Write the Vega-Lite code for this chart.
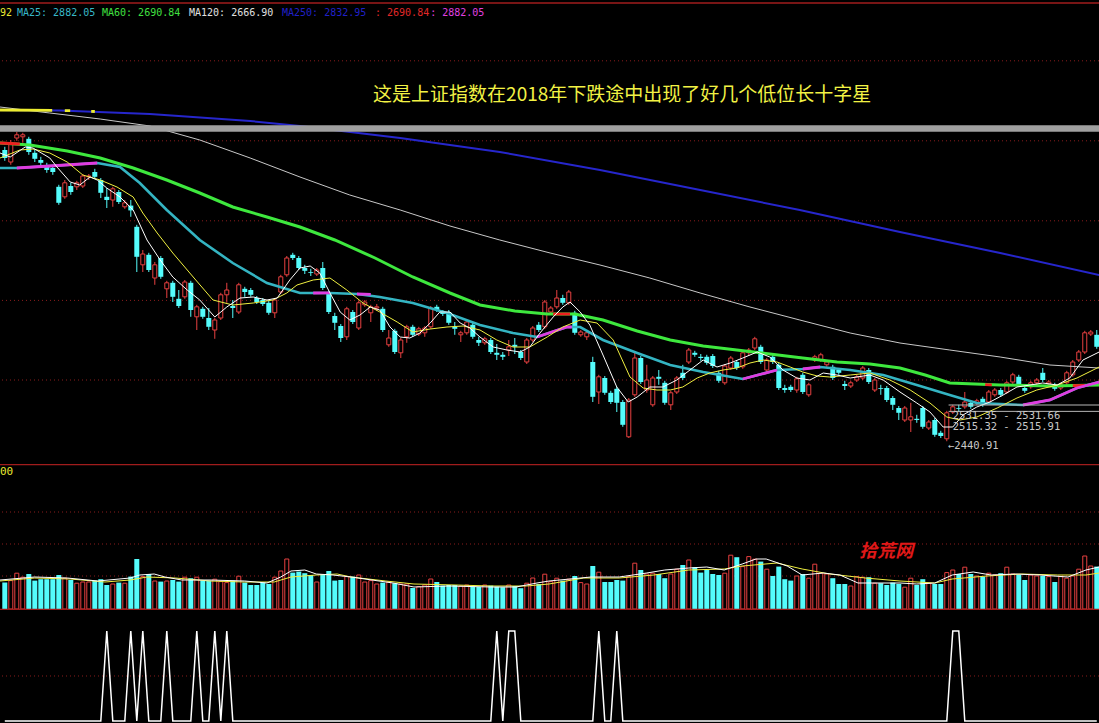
{
"$schema":"https://vega.github.io/schema/vega-lite/v6.json",
"background":"#000000",
"padding":0,
"spacing":0,
"bounds":"flush",
"config":{"view":{"stroke":null},"concat":{"spacing":0},"scale":{"continuousPadding":0}},
"datasets":{
"k":[
{"i":0,"u":0,"o":3169,"h":3177,"l":3142,"c":3149,"v":132,"s":0},
{"i":1,"u":1,"o":3139,"h":3194,"l":3132,"c":3187,"v":142,"s":0},
{"i":2,"u":1,"o":3199,"h":3214,"l":3192,"c":3207,"v":179,"s":0},
{"i":3,"u":1,"o":3202,"h":3212,"l":3187,"c":3207,"v":159,"s":0},
{"i":4,"u":0,"o":3197,"h":3202,"l":3157,"c":3164,"v":175,"s":0},
{"i":5,"u":0,"o":3162,"h":3169,"l":3139,"c":3147,"v":142,"s":0},
{"i":6,"u":0,"o":3144,"h":3152,"l":3129,"c":3137,"v":149,"s":0},
{"i":7,"u":0,"o":3127,"h":3137,"l":3112,"c":3119,"v":149,"s":0},
{"i":8,"u":0,"o":3124,"h":3132,"l":3107,"c":3114,"v":149,"s":0},
{"i":9,"u":0,"o":3077,"h":3082,"l":3032,"c":3037,"v":170,"s":0},
{"i":10,"u":1,"o":3052,"h":3094,"l":3047,"c":3087,"v":154,"s":0},
{"i":11,"u":0,"o":3079,"h":3087,"l":3057,"c":3064,"v":145,"s":0},
{"i":12,"u":1,"o":3077,"h":3092,"l":3069,"c":3087,"v":129,"s":0},
{"i":13,"u":1,"o":3079,"h":3109,"l":3074,"c":3104,"v":135,"s":0},
{"i":14,"u":1,"o":3102,"h":3109,"l":3094,"c":3104,"v":135,"s":0},
{"i":15,"u":0,"o":3114,"h":3122,"l":3097,"c":3102,"v":142,"s":0},
{"i":16,"u":0,"o":3094,"h":3099,"l":3049,"c":3062,"v":149,"s":0},
{"i":17,"u":0,"o":3052,"h":3074,"l":3024,"c":3044,"v":120,"s":1},
{"i":18,"u":1,"o":3044,"h":3077,"l":3027,"c":3072,"v":125,"s":0},
{"i":19,"u":0,"o":3064,"h":3069,"l":3034,"c":3039,"v":132,"s":0},
{"i":20,"u":1,"o":3027,"h":3044,"l":3022,"c":3037,"v":129,"s":0},
{"i":21,"u":0,"o":3030,"h":3044,"l":3002,"c":3018,"v":162,"s":1},
{"i":22,"u":0,"o":2977,"h":2982,"l":2864,"c":2902,"v":250,"s":0},
{"i":23,"u":1,"o":2882,"h":2919,"l":2864,"c":2909,"v":162,"s":1},
{"i":24,"u":0,"o":2907,"h":2912,"l":2864,"c":2869,"v":175,"s":0},
{"i":25,"u":1,"o":2849,"h":2889,"l":2832,"c":2882,"v":140,"s":0},
{"i":26,"u":0,"o":2899,"h":2904,"l":2847,"c":2852,"v":137,"s":0},
{"i":27,"u":1,"o":2822,"h":2842,"l":2799,"c":2837,"v":140,"s":1},
{"i":28,"u":0,"o":2837,"h":2842,"l":2789,"c":2802,"v":145,"s":0},
{"i":29,"u":0,"o":2797,"h":2819,"l":2774,"c":2779,"v":137,"s":0},
{"i":30,"u":1,"o":2802,"h":2844,"l":2797,"c":2839,"v":159,"s":0},
{"i":31,"u":0,"o":2837,"h":2842,"l":2752,"c":2769,"v":154,"s":0},
{"i":32,"u":1,"o":2752,"h":2782,"l":2719,"c":2777,"v":159,"s":1},
{"i":33,"u":0,"o":2772,"h":2777,"l":2747,"c":2752,"v":142,"s":0},
{"i":34,"u":0,"o":2749,"h":2774,"l":2719,"c":2727,"v":142,"s":0},
{"i":35,"u":1,"o":2719,"h":2749,"l":2697,"c":2744,"v":149,"s":1},
{"i":36,"u":1,"o":2749,"h":2812,"l":2744,"c":2807,"v":137,"s":0},
{"i":37,"u":1,"o":2807,"h":2837,"l":2787,"c":2819,"v":132,"s":1},
{"i":38,"u":0,"o":2779,"h":2794,"l":2749,"c":2774,"v":142,"s":0},
{"i":39,"u":1,"o":2764,"h":2837,"l":2759,"c":2832,"v":164,"s":0},
{"i":40,"u":0,"o":2822,"h":2827,"l":2802,"c":2814,"v":132,"s":0},
{"i":41,"u":0,"o":2819,"h":2824,"l":2802,"c":2807,"v":120,"s":0},
{"i":42,"u":0,"o":2799,"h":2804,"l":2784,"c":2789,"v":120,"s":0},
{"i":43,"u":0,"o":2794,"h":2799,"l":2779,"c":2784,"v":132,"s":0},
{"i":44,"u":0,"o":2787,"h":2792,"l":2757,"c":2762,"v":125,"s":0},
{"i":45,"u":1,"o":2762,"h":2799,"l":2749,"c":2794,"v":159,"s":0},
{"i":46,"u":1,"o":2814,"h":2857,"l":2809,"c":2852,"v":190,"s":0},
{"i":47,"u":1,"o":2857,"h":2904,"l":2852,"c":2899,"v":250,"s":0},
{"i":48,"u":0,"o":2907,"h":2912,"l":2894,"c":2899,"v":182,"s":0},
{"i":49,"u":0,"o":2899,"h":2904,"l":2869,"c":2874,"v":187,"s":0},
{"i":50,"u":0,"o":2874,"h":2882,"l":2859,"c":2867,"v":179,"s":0},
{"i":51,"u":0,"o":2864,"h":2872,"l":2854,"c":2862,"v":170,"s":0},
{"i":52,"u":1,"o":2859,"h":2874,"l":2854,"c":2869,"v":135,"s":0},
{"i":53,"u":0,"o":2874,"h":2889,"l":2819,"c":2824,"v":170,"s":0},
{"i":54,"u":0,"o":2812,"h":2817,"l":2759,"c":2764,"v":190,"s":0},
{"i":55,"u":0,"o":2754,"h":2762,"l":2719,"c":2737,"v":142,"s":0},
{"i":56,"u":0,"o":2729,"h":2734,"l":2689,"c":2699,"v":145,"s":0},
{"i":57,"u":1,"o":2702,"h":2777,"l":2694,"c":2772,"v":162,"s":0},
{"i":58,"u":0,"o":2764,"h":2769,"l":2734,"c":2739,"v":162,"s":0},
{"i":59,"u":1,"o":2724,"h":2792,"l":2719,"c":2787,"v":170,"s":0},
{"i":60,"u":1,"o":2782,"h":2794,"l":2777,"c":2789,"v":135,"s":0},
{"i":61,"u":1,"o":2762,"h":2782,"l":2739,"c":2777,"v":142,"s":0},
{"i":62,"u":1,"o":2774,"h":2784,"l":2767,"c":2777,"v":125,"s":0},
{"i":63,"u":0,"o":2772,"h":2777,"l":2714,"c":2719,"v":132,"s":0},
{"i":64,"u":1,"o":2682,"h":2719,"l":2677,"c":2699,"v":135,"s":0},
{"i":65,"u":0,"o":2717,"h":2722,"l":2659,"c":2664,"v":129,"s":0},
{"i":66,"u":1,"o":2662,"h":2699,"l":2649,"c":2694,"v":125,"s":0},
{"i":67,"u":1,"o":2702,"h":2732,"l":2687,"c":2727,"v":125,"s":0},
{"i":68,"u":0,"o":2727,"h":2732,"l":2702,"c":2707,"v":105,"s":0},
{"i":69,"u":1,"o":2709,"h":2727,"l":2704,"c":2722,"v":112,"s":0},
{"i":70,"u":1,"o":2712,"h":2729,"l":2702,"c":2724,"v":120,"s":0},
{"i":71,"u":1,"o":2727,"h":2779,"l":2722,"c":2774,"v":150,"s":0},
{"i":72,"u":0,"o":2777,"h":2782,"l":2764,"c":2769,"v":135,"s":0},
{"i":73,"u":0,"o":2764,"h":2769,"l":2754,"c":2759,"v":117,"s":0},
{"i":74,"u":0,"o":2764,"h":2769,"l":2732,"c":2737,"v":120,"s":0},
{"i":75,"u":0,"o":2727,"h":2739,"l":2707,"c":2722,"v":120,"s":0},
{"i":76,"u":1,"o":2707,"h":2717,"l":2689,"c":2712,"v":115,"s":0},
{"i":77,"u":1,"o":2712,"h":2744,"l":2707,"c":2739,"v":120,"s":0},
{"i":78,"u":0,"o":2732,"h":2737,"l":2697,"c":2702,"v":112,"s":0},
{"i":79,"u":0,"o":2694,"h":2702,"l":2679,"c":2687,"v":110,"s":0},
{"i":80,"u":1,"o":2687,"h":2702,"l":2682,"c":2697,"v":120,"s":0},
{"i":81,"u":0,"o":2694,"h":2699,"l":2659,"c":2664,"v":117,"s":0},
{"i":82,"u":0,"o":2662,"h":2684,"l":2644,"c":2657,"v":112,"s":1},
{"i":83,"u":0,"o":2657,"h":2664,"l":2644,"c":2652,"v":109,"s":0},
{"i":84,"u":1,"o":2669,"h":2694,"l":2654,"c":2677,"v":120,"s":1},
{"i":85,"u":0,"o":2682,"h":2699,"l":2659,"c":2677,"v":115,"s":1},
{"i":86,"u":0,"o":2664,"h":2669,"l":2644,"c":2649,"v":104,"s":0},
{"i":87,"u":1,"o":2639,"h":2699,"l":2634,"c":2694,"v":129,"s":0},
{"i":88,"u":1,"o":2694,"h":2729,"l":2689,"c":2724,"v":155,"s":0},
{"i":89,"u":0,"o":2732,"h":2739,"l":2714,"c":2719,"v":125,"s":0},
{"i":90,"u":1,"o":2727,"h":2794,"l":2722,"c":2789,"v":174,"s":0},
{"i":91,"u":1,"o":2764,"h":2779,"l":2759,"c":2774,"v":137,"s":0},
{"i":92,"u":1,"o":2777,"h":2819,"l":2772,"c":2799,"v":154,"s":0},
{"i":93,"u":0,"o":2799,"h":2807,"l":2782,"c":2787,"v":142,"s":0},
{"i":94,"u":1,"o":2787,"h":2819,"l":2782,"c":2814,"v":149,"s":0},
{"i":95,"u":0,"o":2762,"h":2767,"l":2707,"c":2712,"v":165,"s":0},
{"i":96,"u":1,"o":2707,"h":2719,"l":2702,"c":2714,"v":132,"s":0},
{"i":97,"u":1,"o":2702,"h":2717,"l":2694,"c":2712,"v":125,"s":0},
{"i":98,"u":0,"o":2639,"h":2652,"l":2539,"c":2552,"v":215,"s":0},
{"i":99,"u":1,"o":2564,"h":2607,"l":2534,"c":2602,"v":184,"s":1},
{"i":100,"u":0,"o":2599,"h":2604,"l":2557,"c":2562,"v":135,"s":0},
{"i":101,"u":0,"o":2562,"h":2567,"l":2534,"c":2539,"v":135,"s":0},
{"i":102,"u":0,"o":2572,"h":2577,"l":2514,"c":2537,"v":145,"s":1},
{"i":103,"u":0,"o":2539,"h":2544,"l":2477,"c":2482,"v":142,"s":0},
{"i":104,"u":1,"o":2452,"h":2549,"l":2449,"c":2544,"v":162,"s":0},
{"i":105,"u":1,"o":2557,"h":2664,"l":2552,"c":2649,"v":229,"s":0},
{"i":106,"u":0,"o":2649,"h":2654,"l":2584,"c":2589,"v":195,"s":0},
{"i":107,"u":1,"o":2569,"h":2632,"l":2562,"c":2594,"v":175,"s":0},
{"i":108,"u":1,"o":2532,"h":2604,"l":2527,"c":2599,"v":179,"s":0},
{"i":109,"u":0,"o":2602,"h":2619,"l":2582,"c":2597,"v":175,"s":0},
{"i":110,"u":0,"o":2587,"h":2592,"l":2532,"c":2537,"v":154,"s":0},
{"i":111,"u":1,"o":2532,"h":2567,"l":2519,"c":2562,"v":175,"s":0},
{"i":112,"u":1,"o":2564,"h":2604,"l":2559,"c":2599,"v":199,"s":0},
{"i":113,"u":0,"o":2612,"h":2632,"l":2594,"c":2599,"v":220,"s":0},
{"i":114,"u":1,"o":2639,"h":2674,"l":2634,"c":2669,"v":245,"s":0},
{"i":115,"u":0,"o":2662,"h":2667,"l":2652,"c":2657,"v":209,"s":0},
{"i":116,"u":0,"o":2652,"h":2659,"l":2642,"c":2649,"v":182,"s":0},
{"i":117,"u":0,"o":2652,"h":2657,"l":2632,"c":2637,"v":195,"s":0},
{"i":118,"u":0,"o":2654,"h":2659,"l":2624,"c":2629,"v":175,"s":0},
{"i":119,"u":0,"o":2612,"h":2617,"l":2587,"c":2592,"v":170,"s":0},
{"i":120,"u":1,"o":2587,"h":2634,"l":2582,"c":2629,"v":179,"s":0},
{"i":121,"u":1,"o":2624,"h":2654,"l":2619,"c":2649,"v":269,"s":0},
{"i":122,"u":0,"o":2639,"h":2644,"l":2619,"c":2624,"v":259,"s":0},
{"i":123,"u":1,"o":2627,"h":2667,"l":2622,"c":2662,"v":212,"s":0},
{"i":124,"u":1,"o":2662,"h":2674,"l":2654,"c":2669,"v":262,"s":0},
{"i":125,"u":1,"o":2674,"h":2702,"l":2669,"c":2697,"v":249,"s":0},
{"i":126,"u":0,"o":2677,"h":2682,"l":2634,"c":2639,"v":237,"s":0},
{"i":127,"u":1,"o":2619,"h":2649,"l":2614,"c":2644,"v":199,"s":0},
{"i":128,"u":0,"o":2652,"h":2657,"l":2634,"c":2639,"v":165,"s":0},
{"i":129,"u":0,"o":2632,"h":2637,"l":2569,"c":2574,"v":212,"s":0},
{"i":130,"u":0,"o":2574,"h":2582,"l":2562,"c":2569,"v":149,"s":0},
{"i":131,"u":0,"o":2577,"h":2582,"l":2564,"c":2569,"v":142,"s":0},
{"i":132,"u":1,"o":2569,"h":2602,"l":2562,"c":2597,"v":165,"s":0},
{"i":133,"u":0,"o":2607,"h":2612,"l":2559,"c":2564,"v":175,"s":0},
{"i":134,"u":1,"o":2557,"h":2587,"l":2552,"c":2582,"v":154,"s":0},
{"i":135,"u":1,"o":2644,"h":2657,"l":2639,"c":2652,"v":224,"s":0},
{"i":136,"u":1,"o":2644,"h":2662,"l":2639,"c":2657,"v":179,"s":0},
{"i":137,"u":1,"o":2632,"h":2644,"l":2627,"c":2639,"v":175,"s":0},
{"i":138,"u":0,"o":2627,"h":2632,"l":2594,"c":2599,"v":154,"s":0},
{"i":139,"u":0,"o":2619,"h":2624,"l":2607,"c":2612,"v":125,"s":0},
{"i":140,"u":0,"o":2584,"h":2592,"l":2569,"c":2579,"v":125,"s":0},
{"i":141,"u":1,"o":2579,"h":2592,"l":2574,"c":2587,"v":115,"s":0},
{"i":142,"u":1,"o":2594,"h":2607,"l":2589,"c":2602,"v":162,"s":0},
{"i":143,"u":1,"o":2599,"h":2629,"l":2594,"c":2624,"v":159,"s":0},
{"i":144,"u":0,"o":2619,"h":2624,"l":2584,"c":2589,"v":159,"s":0},
{"i":145,"u":1,"o":2569,"h":2599,"l":2564,"c":2594,"v":129,"s":0},
{"i":146,"u":0,"o":2574,"h":2582,"l":2557,"c":2572,"v":129,"s":0},
{"i":147,"u":0,"o":2574,"h":2579,"l":2539,"c":2544,"v":120,"s":0},
{"i":148,"u":0,"o":2549,"h":2554,"l":2519,"c":2532,"v":132,"s":0},
{"i":149,"u":0,"o":2524,"h":2529,"l":2494,"c":2512,"v":125,"s":0},
{"i":150,"u":1,"o":2494,"h":2529,"l":2489,"c":2524,"v":109,"s":0},
{"i":151,"u":1,"o":2494,"h":2537,"l":2464,"c":2502,"v":154,"s":0},
{"i":152,"u":0,"o":2497,"h":2507,"l":2487,"c":2494,"v":120,"s":0},
{"i":153,"u":0,"o":2524,"h":2529,"l":2472,"c":2477,"v":149,"s":0},
{"i":154,"u":1,"o":2474,"h":2494,"l":2469,"c":2489,"v":129,"s":0},
{"i":155,"u":0,"o":2494,"h":2499,"l":2452,"c":2457,"v":125,"s":0},
{"i":156,"u":0,"o":2462,"h":2467,"l":2449,"c":2454,"v":125,"s":0},
{"i":157,"u":1,"o":2447,"h":2517,"l":2440.91,"c":2512,"v":182,"s":0},
{"i":158,"u":1,"o":2514,"h":2532,"l":2509,"c":2527,"v":195,"s":1},
{"i":159,"u":0,"o":2524,"h":2532,"l":2514,"c":2522,"v":175,"s":1},
{"i":160,"u":1,"o":2527,"h":2564,"l":2522,"c":2539,"v":209,"s":0},
{"i":161,"u":0,"o":2537,"h":2542,"l":2522,"c":2527,"v":175,"s":0},
{"i":162,"u":1,"o":2537,"h":2547,"l":2532,"c":2542,"v":165,"s":0},
{"i":163,"u":0,"o":2547,"h":2552,"l":2527,"c":2532,"v":162,"s":0},
{"i":164,"u":1,"o":2539,"h":2569,"l":2534,"c":2564,"v":179,"s":0},
{"i":165,"u":1,"o":2557,"h":2574,"l":2552,"c":2569,"v":170,"s":0},
{"i":166,"u":0,"o":2569,"h":2574,"l":2552,"c":2557,"v":179,"s":0},
{"i":167,"u":1,"o":2564,"h":2592,"l":2559,"c":2587,"v":209,"s":0},
{"i":168,"u":1,"o":2589,"h":2612,"l":2584,"c":2607,"v":175,"s":0},
{"i":169,"u":0,"o":2602,"h":2607,"l":2577,"c":2582,"v":170,"s":0},
{"i":170,"u":0,"o":2574,"h":2579,"l":2562,"c":2567,"v":145,"s":0},
{"i":171,"u":1,"o":2577,"h":2592,"l":2572,"c":2587,"v":170,"s":0},
{"i":172,"u":1,"o":2587,"h":2599,"l":2582,"c":2594,"v":165,"s":0},
{"i":173,"u":0,"o":2612,"h":2624,"l":2589,"c":2594,"v":165,"s":0},
{"i":174,"u":1,"o":2584,"h":2594,"l":2579,"c":2589,"v":162,"s":0},
{"i":175,"u":0,"o":2582,"h":2587,"l":2567,"c":2572,"v":135,"s":0},
{"i":176,"u":1,"o":2574,"h":2587,"l":2569,"c":2582,"v":162,"s":0},
{"i":177,"u":1,"o":2587,"h":2617,"l":2582,"c":2612,"v":154,"s":0},
{"i":178,"u":1,"o":2607,"h":2644,"l":2602,"c":2639,"v":165,"s":0},
{"i":179,"u":1,"o":2644,"h":2669,"l":2639,"c":2664,"v":199,"s":0},
{"i":180,"u":1,"o":2664,"h":2717,"l":2659,"c":2712,"v":265,"s":0},
{"i":181,"u":1,"o":2709,"h":2719,"l":2704,"c":2714,"v":215,"s":0},
{"i":182,"u":0,"o":2707,"h":2719,"l":2672,"c":2677,"v":212,"s":0}
],
"ma5":[{"i":-0.8,"p":3161.5},{"i":0.9,"p":3151.5},{"i":3.4,"p":3176.5},{"i":4.7,"p":3174},{"i":7.5,"p":3149},{"i":8.7,"p":3126.5},{"i":10.9,"p":3089},{"i":12.5,"p":3081.5},{"i":14.2,"p":3101.5},{"i":15.4,"p":3094},{"i":17,"p":3074},{"i":19.2,"p":3051.5},{"i":21.4,"p":3019},{"i":23.7,"p":2944},{"i":25.9,"p":2894},{"i":28,"p":2851.5},{"i":30.4,"p":2819},{"i":32.5,"p":2794},{"i":35,"p":2751.5},{"i":37,"p":2776.5},{"i":39.2,"p":2799},{"i":41.4,"p":2801.5},{"i":43.7,"p":2794},{"i":45.4,"p":2799},{"i":47.5,"p":2844},{"i":49.2,"p":2874},{"i":50.9,"p":2879},{"i":52.5,"p":2861.5},{"i":54.2,"p":2811.5},{"i":55.9,"p":2764},{"i":57.5,"p":2744},{"i":59.2,"p":2756.5},{"i":60.9,"p":2776.5},{"i":62.5,"p":2769},{"i":64.2,"p":2726.5},{"i":65.9,"p":2701.5},{"i":67.5,"p":2699},{"i":69.2,"p":2711.5},{"i":70.9,"p":2736.5},{"i":72.5,"p":2764},{"i":74.2,"p":2764},{"i":75.9,"p":2736.5},{"i":77.5,"p":2724},{"i":79.2,"p":2701.5},{"i":81.4,"p":2676.5},{"i":83.7,"p":2669},{"i":85.9,"p":2664},{"i":87.5,"p":2676.5},{"i":89.2,"p":2711.5},{"i":91.4,"p":2751.5},{"i":93,"p":2776.5},{"i":94.2,"p":2789},{"i":95.9,"p":2764},{"i":97.5,"p":2731.5},{"i":99.7,"p":2656.5},{"i":102,"p":2576.5},{"i":103.9,"p":2539},{"i":105.4,"p":2551.5},{"i":107.5,"p":2576.5},{"i":109.7,"p":2576.5},{"i":112,"p":2594},{"i":114.2,"p":2619},{"i":116.4,"p":2644},{"i":118.7,"p":2626.5},{"i":120.9,"p":2636.5},{"i":123,"p":2649},{"i":125.4,"p":2664},{"i":127.5,"p":2651.5},{"i":129.7,"p":2619},{"i":132,"p":2599},{"i":134.2,"p":2594},{"i":136.4,"p":2611.5},{"i":138.7,"p":2606.5},{"i":140.9,"p":2599},{"i":144.2,"p":2606.5},{"i":146.4,"p":2594},{"i":149.2,"p":2564},{"i":152,"p":2536.5},{"i":154.2,"p":2514},{"i":156.4,"p":2476.5},{"i":158,"p":2476.5},{"i":159.7,"p":2506.5},{"i":162,"p":2526.5},{"i":164.2,"p":2539},{"i":166.4,"p":2556.5},{"i":168.7,"p":2576.5},{"i":170.9,"p":2581.5},{"i":173,"p":2586.5},{"i":175.4,"p":2581.5},{"i":177.5,"p":2599},{"i":179.7,"p":2644},{"i":182.4,"p":2664}],
"ma10":[{"i":-0.8,"p":3149},{"i":2.5,"p":3169},{"i":4.7,"p":3171.5},{"i":7.5,"p":3161.5},{"i":10.4,"p":3139},{"i":13,"p":3106.5},{"i":15.9,"p":3094},{"i":18.7,"p":3076.5},{"i":21.4,"p":3051.5},{"i":23,"p":3011.5},{"i":25.4,"p":2961.5},{"i":28,"p":2911.5},{"i":31.4,"p":2851.5},{"i":34.7,"p":2794},{"i":38,"p":2781.5},{"i":41.4,"p":2786.5},{"i":44.7,"p":2794},{"i":47,"p":2811.5},{"i":48.7,"p":2831.5},{"i":51.4,"p":2844},{"i":54.2,"p":2849},{"i":57,"p":2819},{"i":59.7,"p":2786.5},{"i":62.5,"p":2764},{"i":65.4,"p":2739},{"i":68,"p":2714},{"i":70.9,"p":2721.5},{"i":73.7,"p":2726.5},{"i":76.4,"p":2729},{"i":79.2,"p":2719},{"i":82,"p":2694},{"i":84.7,"p":2676.5},{"i":87.5,"p":2676.5},{"i":90.4,"p":2701.5},{"i":93,"p":2726.5},{"i":95.9,"p":2744},{"i":98.7,"p":2736.5},{"i":101.4,"p":2694},{"i":104.2,"p":2601.5},{"i":106.4,"p":2574},{"i":108.7,"p":2569},{"i":110.9,"p":2569},{"i":113,"p":2576.5},{"i":115.4,"p":2599},{"i":117.5,"p":2611.5},{"i":119.7,"p":2619},{"i":122,"p":2624},{"i":124.2,"p":2636.5},{"i":126.4,"p":2644},{"i":128.7,"p":2639},{"i":130.9,"p":2626.5},{"i":133,"p":2614},{"i":135.4,"p":2604},{"i":137.5,"p":2601.5},{"i":140.9,"p":2606.5},{"i":144.2,"p":2611.5},{"i":147.5,"p":2594},{"i":150.9,"p":2569},{"i":154.2,"p":2536.5},{"i":157,"p":2501.5},{"i":159.2,"p":2494},{"i":162,"p":2501.5},{"i":165.4,"p":2524},{"i":168.7,"p":2549},{"i":172,"p":2569},{"i":175.4,"p":2581.5},{"i":178.7,"p":2599},{"i":182.4,"p":2626.5}],
"ma25":[{"i":-0.8,"p":3124},{"i":2,"p":3124},{"i":7.5,"p":3129},{"i":15.4,"p":3136.5},{"i":19.2,"p":3126.5},{"i":22.5,"p":3086.5},{"i":27,"p":3019},{"i":32.5,"p":2944},{"i":38,"p":2886.5},{"i":43.7,"p":2836.5},{"i":49.2,"p":2811.5},{"i":54.2,"p":2811.5},{"i":58.7,"p":2809},{"i":62.5,"p":2801.5},{"i":68,"p":2786.5},{"i":73.7,"p":2761.5},{"i":79.2,"p":2731.5},{"i":84.7,"p":2711.5},{"i":88.7,"p":2701.5},{"i":93.7,"p":2726.5},{"i":95.9,"p":2726.5},{"i":99.7,"p":2694},{"i":105.4,"p":2661.5},{"i":110.9,"p":2631.5},{"i":116.4,"p":2614},{"i":123,"p":2596.5},{"i":128.7,"p":2619},{"i":133,"p":2621.5},{"i":135.9,"p":2626.5},{"i":140.9,"p":2619},{"i":146.4,"p":2606.5},{"i":152,"p":2581.5},{"i":157.5,"p":2556.5},{"i":162,"p":2536.5},{"i":169.7,"p":2531.5},{"i":174.2,"p":2544},{"i":178.7,"p":2574},{"i":182.4,"p":2589}],
"ma60":[{"i":-0.8,"p":3186.5},{"i":4.2,"p":3181.5},{"i":10.4,"p":3166.5},{"i":15.9,"p":3149},{"i":21.4,"p":3124},{"i":27,"p":3094},{"i":32.5,"p":3061.5},{"i":38,"p":3026.5},{"i":43.7,"p":3001.5},{"i":49.2,"p":2976.5},{"i":55,"p":2944},{"i":61.7,"p":2899},{"i":68,"p":2851.5},{"i":74.2,"p":2811.5},{"i":79.2,"p":2781.5},{"i":85,"p":2766.5},{"i":90.4,"p":2759},{"i":95,"p":2759},{"i":99.7,"p":2744},{"i":105.4,"p":2716.5},{"i":110.9,"p":2694},{"i":116.4,"p":2679},{"i":122,"p":2669},{"i":127.5,"p":2659},{"i":133,"p":2649},{"i":138.7,"p":2639},{"i":144.2,"p":2634},{"i":149.2,"p":2624},{"i":153.4,"p":2606.5},{"i":157.5,"p":2586.5},{"i":165.9,"p":2581.5},{"i":174.2,"p":2579},{"i":182.4,"p":2581.5}],
"ma120":[{"i":-0.8,"p":3276.5},{"i":7.5,"p":3261.5},{"i":15.9,"p":3246.5},{"i":24.2,"p":3229},{"i":32.5,"p":3194},{"i":40.9,"p":3149},{"i":49.2,"p":3101.5},{"i":57.5,"p":3056.5},{"i":65.9,"p":3019},{"i":74.2,"p":2979},{"i":82.5,"p":2944},{"i":90.9,"p":2911.5},{"i":99.2,"p":2881.5},{"i":107.5,"p":2849},{"i":115.9,"p":2811.5},{"i":124.2,"p":2776.5},{"i":132.5,"p":2744},{"i":140.9,"p":2711.5},{"i":149.2,"p":2686.5},{"i":157.5,"p":2669},{"i":165.9,"p":2651.5},{"i":174.2,"p":2631.5},{"i":182.4,"p":2624}],
"ma250":[{"i":-0.8,"p":3269},{"i":9.2,"p":3267.7},{"i":24.2,"p":3259},{"i":40.9,"p":3241.5},{"i":49.2,"p":3229},{"i":65.9,"p":3199},{"i":82.5,"p":3164},{"i":99.2,"p":3119},{"i":115.9,"p":3069},{"i":132.5,"p":3019},{"i":149.2,"p":2964},{"i":165.9,"p":2911.5},{"i":182.4,"p":2856.5}],
"ov":[
{"g":"y1","k":"ma250up","i":-0.8,"p":3269},{"g":"y1","k":"ma250up","i":7.9,"p":3268},
{"g":"y2","k":"ma250up","i":10,"p":3267.5},{"g":"y2","k":"ma250up","i":10.9,"p":3267.3},
{"g":"y3","k":"ma250up","i":14.4,"p":3265.5},{"g":"y3","k":"ma250up","i":15,"p":3265.2},
{"g":"r1","k":"ma60up","i":-0.8,"p":3186.5},{"g":"r1","k":"ma60up","i":2.5,"p":3184},
{"g":"r2","k":"ma60up","i":91.4,"p":2759},{"g":"r2","k":"ma60up","i":94.2,"p":2759},
{"g":"r3","k":"ma60up","i":163.4,"p":2582.5},{"g":"r3","k":"ma60up","i":164.5,"p":2582},
{"g":"r4","k":"ma60up","i":178,"p":2580},{"g":"r4","k":"ma60up","i":180,"p":2580.5},
{"g":"m1","k":"ma25up","i":2,"p":3124},{"g":"m1","k":"ma25up","i":7.5,"p":3129},{"g":"m1","k":"ma25up","i":15.4,"p":3136.5},
{"g":"m2","k":"ma25up","i":51.4,"p":2811.5},{"g":"m2","k":"ma25up","i":54.2,"p":2812},
{"g":"m3","k":"ma25up","i":58.7,"p":2809},{"g":"m3","k":"ma25up","i":61,"p":2808},
{"g":"m4","k":"ma25up","i":88.7,"p":2701.5},{"g":"m4","k":"ma25up","i":93.7,"p":2726.5},{"g":"m4","k":"ma25up","i":94.5,"p":2726.5},
{"g":"m5","k":"ma25up","i":123,"p":2596.5},{"g":"m5","k":"ma25up","i":128.7,"p":2619},
{"g":"m6","k":"ma25up","i":133,"p":2621.5},{"g":"m6","k":"ma25up","i":135.9,"p":2626.5},
{"g":"m7","k":"ma25up","i":169.7,"p":2531.5},{"g":"m7","k":"ma25up","i":174.2,"p":2544},{"g":"m7","k":"ma25up","i":178.7,"p":2574},{"g":"m7","k":"ma25up","i":182.4,"p":2589}
],
"vm5":[{"i":-0.8,"v":145},{"i":5,"v":160},{"i":10.4,"v":155},{"i":15.5,"v":140},{"i":20.9,"v":155},{"i":22.5,"v":170},{"i":24.9,"v":175},{"i":26.7,"v":160},{"i":29.5,"v":145},{"i":34.2,"v":145},{"i":40,"v":140},{"i":43.7,"v":130},{"i":46,"v":160},{"i":47.7,"v":190},{"i":50,"v":195},{"i":51.9,"v":175},{"i":54.7,"v":170},{"i":57.7,"v":160},{"i":61.2,"v":145},{"i":64.7,"v":130},{"i":68.2,"v":110},{"i":74,"v":115},{"i":81,"v":110},{"i":85.2,"v":110},{"i":88.7,"v":130},{"i":90.7,"v":140},{"i":94.2,"v":150},{"i":97.7,"v":160},{"i":102.4,"v":160},{"i":107,"v":180},{"i":110,"v":195},{"i":114,"v":205},{"i":117,"v":210},{"i":119.9,"v":195},{"i":122.9,"v":225},{"i":125.2,"v":250},{"i":126.9,"v":250},{"i":130.4,"v":215},{"i":132.9,"v":170},{"i":136.4,"v":180},{"i":139.2,"v":170},{"i":142.2,"v":130},{"i":146.2,"v":130},{"i":149.2,"v":130},{"i":152,"v":125},{"i":155,"v":130},{"i":157.9,"v":170},{"i":161.4,"v":185},{"i":164.4,"v":170},{"i":168.4,"v":175},{"i":172.5,"v":170},{"i":177.2,"v":160},{"i":180.2,"v":195},{"i":182.4,"v":210}],
"vm10":[{"i":-0.8,"v":140},{"i":5,"v":155},{"i":10.9,"v":150},{"i":16.7,"v":135},{"i":20.9,"v":145},{"i":23.7,"v":160},{"i":28.4,"v":155},{"i":34.2,"v":140},{"i":40,"v":135},{"i":44.9,"v":135},{"i":47.7,"v":160},{"i":51.9,"v":170},{"i":55.4,"v":175},{"i":57.7,"v":160},{"i":63.5,"v":140},{"i":68.2,"v":125},{"i":75.2,"v":120},{"i":81,"v":115},{"i":86.9,"v":115},{"i":90.7,"v":125},{"i":96.5,"v":155},{"i":102.4,"v":155},{"i":108.2,"v":170},{"i":114,"v":195},{"i":119.9,"v":200},{"i":122.9,"v":215},{"i":128.7,"v":230},{"i":132.9,"v":200},{"i":137.5,"v":175},{"i":143.4,"v":155},{"i":149.2,"v":140},{"i":155,"v":130},{"i":157.9,"v":150},{"i":163.7,"v":165},{"i":169.5,"v":175},{"i":175.5,"v":170},{"i":180.2,"v":170},{"i":182.4,"v":180}],
"gp":[{"p":3392},{"p":3192},{"p":2992},{"p":2793},{"p":2594}],
"gv":[{"v":485},{"v":325},{"v":165}],
"gs":[{"s":0.5}],
"band":[{"p":3223}],
"top":[{"p":3536.5}],
"sepv":[{"v":722.5},{"v":-3}],
"hl":[{"i":157.3,"i2":182.4,"p":2531.5},{"i":157.3,"i2":182.4,"p":2515.6}],
"hdr":[
{"i":-0.8,"p":3512,"t":"92","k":"y"},
{"i":2.03,"p":3512,"t":"MA25: 2882.05","k":"c"},
{"i":16.2,"p":3512,"t":"MA60: 2690.84","k":"g"},
{"i":30.7,"p":3512,"t":"MA120: 2666.90","k":"w"},
{"i":46.2,"p":3512,"t":"MA250: 2832.95","k":"b"},
{"i":61.7,"p":3512,"t":": 2690.84","k":"r"},
{"i":70.9,"p":3512,"t":": 2882.05","k":"m"}
],
"ann":[
{"i":158.0,"p":2504,"t":"2531.35 - 2531.66"},
{"i":158.0,"p":2477,"t":"2515.32 - 2515.91"},
{"i":157.2,"p":2429,"t":"←2440.91"}
],
"title":[{"i":102.9,"p":3306.5,"t":"这是上证指数在2018年下跌途中出现了好几个低位长十字星"}],
"vlab":[{"i":-0.8,"v":685,"t":"00"}],
"wm":[{"i":146.9,"v":285,"t":"拾荒网"}]
},
"vconcat":[
{"width":1099,"height":464,
"resolve":{"scale":{"color":"independent"}},
"layer":[
{"data":{"name":"gp"},"mark":{"type":"rule","color":"#8a1c1c","strokeWidth":1,"strokeDash":[1,3],"clip":true},"encoding":{"y":{"field":"p","type":"quantitative","scale":{"domain":[2384,3544],"nice":false,"zero":false},"axis":null}}},
{"data":{"name":"top"},"mark":{"type":"rule","color":"#a01c1c","strokeWidth":1.5,"clip":true},"encoding":{"y":{"field":"p","type":"quantitative","scale":{"domain":[2384,3544],"nice":false,"zero":false},"axis":null}}},
{"data":{"name":"k"},"mark":{"type":"rule","strokeWidth":1,"clip":true},"encoding":{"x":{"field":"i","type":"quantitative","scale":{"domain":[-0.8,182.37],"nice":false,"zero":false,"padding":0},"axis":null},"y":{"field":"l","type":"quantitative","scale":{"domain":[2384,3544],"nice":false,"zero":false},"axis":null},"y2":{"field":"h"},"color":{"field":"u","type":"nominal","scale":{"domain":[0,1],"range":["#54fcfc","#e84040"]},"legend":null}}},
{"data":{"name":"k"},"transform":[{"filter":"datum.u==1"}],"mark":{"type":"bar","width":4,"fill":"#000000","stroke":"#e84040","strokeWidth":1,"clip":true},"encoding":{"x":{"field":"i","type":"quantitative","scale":{"domain":[-0.8,182.37],"nice":false,"zero":false,"padding":0},"axis":null},"y":{"field":"o","type":"quantitative","scale":{"domain":[2384,3544],"nice":false,"zero":false},"axis":null},"y2":{"field":"c"}}},
{"data":{"name":"k"},"transform":[{"filter":"datum.u==0"}],"mark":{"type":"bar","width":5,"fill":"#54fcfc","clip":true},"encoding":{"x":{"field":"i","type":"quantitative","scale":{"domain":[-0.8,182.37],"nice":false,"zero":false,"padding":0},"axis":null},"y":{"field":"o","type":"quantitative","scale":{"domain":[2384,3544],"nice":false,"zero":false},"axis":null},"y2":{"field":"c"}}},
{"data":{"name":"ma120"},"mark":{"type":"line","color":"#c8c8c8","strokeWidth":1,"clip":true},"encoding":{"x":{"field":"i","type":"quantitative","scale":{"domain":[-0.8,182.37],"nice":false,"zero":false,"padding":0},"axis":null},"y":{"field":"p","type":"quantitative","scale":{"domain":[2384,3544],"nice":false,"zero":false},"axis":null}}},
{"data":{"name":"ma250"},"mark":{"type":"line","color":"#2626cc","strokeWidth":2,"clip":true},"encoding":{"x":{"field":"i","type":"quantitative","scale":{"domain":[-0.8,182.37],"nice":false,"zero":false,"padding":0},"axis":null},"y":{"field":"p","type":"quantitative","scale":{"domain":[2384,3544],"nice":false,"zero":false},"axis":null}}},
{"data":{"name":"ma60"},"mark":{"type":"line","color":"#3ee83e","strokeWidth":3,"clip":true},"encoding":{"x":{"field":"i","type":"quantitative","scale":{"domain":[-0.8,182.37],"nice":false,"zero":false,"padding":0},"axis":null},"y":{"field":"p","type":"quantitative","scale":{"domain":[2384,3544],"nice":false,"zero":false},"axis":null}}},
{"data":{"name":"ma25"},"mark":{"type":"line","color":"#34b4c2","strokeWidth":2.6,"clip":true},"encoding":{"x":{"field":"i","type":"quantitative","scale":{"domain":[-0.8,182.37],"nice":false,"zero":false,"padding":0},"axis":null},"y":{"field":"p","type":"quantitative","scale":{"domain":[2384,3544],"nice":false,"zero":false},"axis":null}}},
{"data":{"name":"ov"},"mark":{"type":"line","strokeWidth":2.8,"clip":true},"encoding":{"x":{"field":"i","type":"quantitative","scale":{"domain":[-0.8,182.37],"nice":false,"zero":false,"padding":0},"axis":null},"y":{"field":"p","type":"quantitative","scale":{"domain":[2384,3544],"nice":false,"zero":false},"axis":null},"detail":{"field":"g","type":"nominal"},"color":{"field":"k","type":"nominal","scale":{"domain":["ma25up","ma60up","ma250up"],"range":["#e03ce0","#f02020","#ecec30"]},"legend":null}}},
{"data":{"name":"ma10"},"mark":{"type":"line","color":"#f0f040","strokeWidth":1,"clip":true},"encoding":{"x":{"field":"i","type":"quantitative","scale":{"domain":[-0.8,182.37],"nice":false,"zero":false,"padding":0},"axis":null},"y":{"field":"p","type":"quantitative","scale":{"domain":[2384,3544],"nice":false,"zero":false},"axis":null}}},
{"data":{"name":"ma5"},"mark":{"type":"line","color":"#ffffff","strokeWidth":1,"clip":true},"encoding":{"x":{"field":"i","type":"quantitative","scale":{"domain":[-0.8,182.37],"nice":false,"zero":false,"padding":0},"axis":null},"y":{"field":"p","type":"quantitative","scale":{"domain":[2384,3544],"nice":false,"zero":false},"axis":null}}},
{"data":{"name":"band"},"mark":{"type":"rule","color":"#a0a0a0","strokeWidth":6.5,"clip":true},"encoding":{"y":{"field":"p","type":"quantitative","scale":{"domain":[2384,3544],"nice":false,"zero":false},"axis":null}}},
{"data":{"name":"hl"},"mark":{"type":"rule","color":"#b8b8b8","strokeWidth":1,"clip":true},"encoding":{"x":{"field":"i","type":"quantitative","scale":{"domain":[-0.8,182.37],"nice":false,"zero":false,"padding":0},"axis":null},"x2":{"field":"i2"},"y":{"field":"p","type":"quantitative","scale":{"domain":[2384,3544],"nice":false,"zero":false},"axis":null}}},
{"data":{"name":"hdr"},"mark":{"type":"text","align":"left","baseline":"middle","font":"DejaVu Sans Mono","fontSize":10,"clip":true},"encoding":{"x":{"field":"i","type":"quantitative","scale":{"domain":[-0.8,182.37],"nice":false,"zero":false,"padding":0},"axis":null},"y":{"field":"p","type":"quantitative","scale":{"domain":[2384,3544],"nice":false,"zero":false},"axis":null},"text":{"field":"t"},"color":{"field":"k","type":"nominal","scale":{"domain":["y","c","g","w","b","r","m"],"range":["#e8e830","#38b8c8","#40e040","#e0e0e0","#2020c8","#e02828","#e040e0"]},"legend":null}}},
{"data":{"name":"ann"},"mark":{"type":"text","align":"left","baseline":"middle","font":"DejaVu Sans Mono","fontSize":10.5,"color":"#c8c8c8","clip":true},"encoding":{"x":{"field":"i","type":"quantitative","scale":{"domain":[-0.8,182.37],"nice":false,"zero":false,"padding":0},"axis":null},"y":{"field":"p","type":"quantitative","scale":{"domain":[2384,3544],"nice":false,"zero":false},"axis":null},"text":{"field":"t"}}},
{"data":{"name":"title"},"mark":{"type":"text","align":"center","baseline":"middle","font":"Noto Sans CJK SC","fontSize":19,"color":"#f2f244","clip":true},"encoding":{"x":{"field":"i","type":"quantitative","scale":{"domain":[-0.8,182.37],"nice":false,"zero":false,"padding":0},"axis":null},"y":{"field":"p","type":"quantitative","scale":{"domain":[2384,3544],"nice":false,"zero":false},"axis":null},"text":{"field":"t"}}}
]},
{"width":1099,"height":146,
"layer":[
{"data":{"name":"gv"},"mark":{"type":"rule","color":"#8a1c1c","strokeWidth":1,"strokeDash":[1,3],"clip":true},"encoding":{"y":{"field":"v","type":"quantitative","scale":{"domain":[-5,725],"nice":false,"zero":false},"axis":null}}},
{"data":{"name":"k"},"transform":[{"filter":"datum.u==1"}],"mark":{"type":"bar","width":4,"fill":"#000000","stroke":"#e84040","strokeWidth":1,"clip":true},"encoding":{"x":{"field":"i","type":"quantitative","scale":{"domain":[-0.8,182.37],"nice":false,"zero":false,"padding":0},"axis":null},"y":{"field":"v","type":"quantitative","scale":{"domain":[-5,725],"nice":false,"zero":false},"axis":null},"y2":{"datum":0}}},
{"data":{"name":"k"},"transform":[{"filter":"datum.u==0"}],"mark":{"type":"bar","width":5,"fill":"#54fcfc","clip":true},"encoding":{"x":{"field":"i","type":"quantitative","scale":{"domain":[-0.8,182.37],"nice":false,"zero":false,"padding":0},"axis":null},"y":{"field":"v","type":"quantitative","scale":{"domain":[-5,725],"nice":false,"zero":false},"axis":null},"y2":{"datum":0}}},
{"data":{"name":"vm10"},"mark":{"type":"line","color":"#f0f040","strokeWidth":1,"clip":true},"encoding":{"x":{"field":"i","type":"quantitative","scale":{"domain":[-0.8,182.37],"nice":false,"zero":false,"padding":0},"axis":null},"y":{"field":"v","type":"quantitative","scale":{"domain":[-5,725],"nice":false,"zero":false},"axis":null}}},
{"data":{"name":"vm5"},"mark":{"type":"line","color":"#ffffff","strokeWidth":1,"clip":true},"encoding":{"x":{"field":"i","type":"quantitative","scale":{"domain":[-0.8,182.37],"nice":false,"zero":false,"padding":0},"axis":null},"y":{"field":"v","type":"quantitative","scale":{"domain":[-5,725],"nice":false,"zero":false},"axis":null}}},
{"data":{"name":"sepv"},"mark":{"type":"rule","color":"#a01c1c","strokeWidth":1.5,"clip":true},"encoding":{"y":{"field":"v","type":"quantitative","scale":{"domain":[-5,725],"nice":false,"zero":false},"axis":null}}},
{"data":{"name":"vlab"},"mark":{"type":"text","align":"left","baseline":"middle","font":"DejaVu Sans Mono","fontSize":11,"color":"#e8e830","clip":true},"encoding":{"x":{"field":"i","type":"quantitative","scale":{"domain":[-0.8,182.37],"nice":false,"zero":false,"padding":0},"axis":null},"y":{"field":"v","type":"quantitative","scale":{"domain":[-5,725],"nice":false,"zero":false},"axis":null},"text":{"field":"t"}}},
{"data":{"name":"wm"},"mark":{"type":"text","align":"center","baseline":"middle","font":"Noto Sans CJK SC","fontSize":18,"fontStyle":"italic","fontWeight":"bold","color":"#e01818","clip":true},"encoding":{"x":{"field":"i","type":"quantitative","scale":{"domain":[-0.8,182.37],"nice":false,"zero":false,"padding":0},"axis":null},"y":{"field":"v","type":"quantitative","scale":{"domain":[-5,725],"nice":false,"zero":false},"axis":null},"text":{"field":"t"}}}
]},
{"width":1099,"height":113,
"layer":[
{"data":{"name":"gs"},"mark":{"type":"rule","color":"#8a1c1c","strokeWidth":1,"strokeDash":[1,3],"clip":true},"encoding":{"y":{"field":"s","type":"quantitative","scale":{"domain":[-0.022,1.233],"nice":false,"zero":false},"axis":null}}},
{"data":{"name":"k"},"mark":{"type":"line","color":"#ffffff","strokeWidth":1.5,"clip":true},"encoding":{"x":{"field":"i","type":"quantitative","scale":{"domain":[-0.8,182.37],"nice":false,"zero":false,"padding":0},"axis":null},"y":{"field":"s","type":"quantitative","scale":{"domain":[-0.022,1.233],"nice":false,"zero":false},"axis":null}}}
]}
]
}
